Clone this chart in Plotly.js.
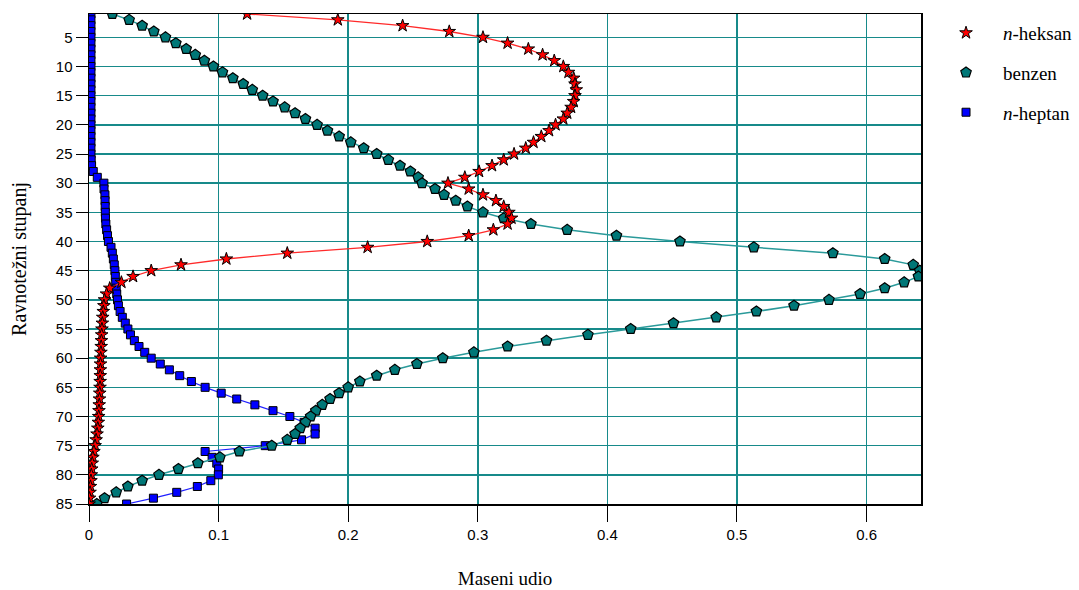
<!DOCTYPE html>
<html>
<head>
<meta charset="utf-8">
<script src="https://cdn.plot.ly/plotly-3.0.1.min.js"></script>
<style>html,body{margin:0;padding:0;background:#fff;}#chart{width:1079px;height:590px;}</style>
</head>
<body>
<div id="chart"></div>
<script>
// Equilibrium stages 1..85
const stages = [];
for (let s = 1; s <= 85; s++) stages.push(s);

// Mass fractions
const heksan = [
  0.122, 0.192, 0.242, 0.278, 0.304, 0.323, 0.339, 0.350, 0.359, 0.366,
  0.370, 0.374, 0.375, 0.376, 0.375, 0.374, 0.372, 0.369, 0.366, 0.360,
  0.355, 0.349, 0.343, 0.337, 0.328, 0.320, 0.311, 0.301, 0.290, 0.277,
  0.293, 0.304, 0.314, 0.320, 0.324, 0.326, 0.323, 0.312, 0.293, 0.261,
  0.215, 0.153, 0.106, 0.071, 0.048, 0.034, 0.025, 0.016, 0.0135, 0.012,
  0.0115, 0.011, 0.0106, 0.0103, 0.0100, 0.0098, 0.0096, 0.0094, 0.0092, 0.0090,
  0.0089, 0.0088, 0.0087, 0.0086, 0.0085, 0.0083, 0.0081, 0.0079, 0.0077, 0.0075,
  0.0072, 0.0068, 0.0062, 0.0055, 0.0047, 0.0038, 0.0030, 0.0025, 0.0021, 0.0018,
  0.0015, 0.0011, 0.0008, 0.0004, 0.0001
];
const benzen = [
  0.018, 0.031, 0.041, 0.050, 0.059, 0.067, 0.075, 0.082, 0.089, 0.096,
  0.103, 0.111, 0.119, 0.126, 0.134, 0.142, 0.151, 0.159, 0.167, 0.176,
  0.184, 0.193, 0.202, 0.212, 0.222, 0.231, 0.240, 0.248, 0.254, 0.257,
  0.267, 0.274, 0.283, 0.292, 0.304, 0.320, 0.341, 0.369, 0.407, 0.456,
  0.513, 0.574, 0.614, 0.636, 0.641, 0.640, 0.629, 0.614, 0.595, 0.571,
  0.544, 0.515, 0.484, 0.451, 0.418, 0.385, 0.353, 0.323, 0.297, 0.273,
  0.253, 0.236, 0.222, 0.209, 0.200, 0.193, 0.186, 0.180, 0.175, 0.171,
  0.167, 0.163, 0.159, 0.153, 0.141, 0.116, 0.101, 0.084, 0.069, 0.054,
  0.041, 0.030, 0.021, 0.012, 0.006
];
const heptan = [
  0.0015, 0.0015, 0.0015, 0.0015, 0.0015, 0.0015, 0.0015, 0.0015, 0.0015, 0.0015,
  0.0015, 0.0015, 0.0015, 0.0015, 0.0015, 0.0015, 0.0015, 0.0015, 0.0015, 0.0015,
  0.0015, 0.0015, 0.0015, 0.0015, 0.0015, 0.0017, 0.0020, 0.0033, 0.0064, 0.0115,
  0.0116, 0.0123, 0.0124, 0.0125, 0.0126, 0.0127, 0.0130, 0.0136, 0.0143, 0.0150,
  0.0170, 0.0180, 0.0188, 0.0195, 0.0200, 0.0203, 0.0206, 0.0210, 0.0214, 0.0220,
  0.0227, 0.0240, 0.0257, 0.0280, 0.0300, 0.0320, 0.0350, 0.0386, 0.0430, 0.0480,
  0.0550, 0.0620, 0.0700, 0.0790, 0.0896, 0.1020, 0.1140, 0.1280, 0.1420, 0.1550,
  0.1660, 0.1745, 0.1745, 0.1640, 0.1360, 0.0896, 0.0950, 0.0986, 0.1000, 0.0998,
  0.0940, 0.0836, 0.0677, 0.0497, 0.0290
];

const yTicks = [5,10,15,20,25,30,35,40,45,50,55,60,65,70,75,80,85];
const xTicks = [0,0.1,0.2,0.3,0.4,0.5,0.6];
const xTickText = ['0','0.1','0.2','0.3','0.4','0.5','0.6'];
const names = ['<i>n</i>-heksan', 'benzen', '<i>n</i>-heptan'];

const mk = {
  heksan: {symbol:'star', size:9.5, color:'#ff0000', line:{color:'#000', width:1}},
  benzen: {symbol:'pentagon', size:11, color:'#007777', line:{color:'#000', width:1.2}},
  heptan: {symbol:'square', size:8, color:'#0000ff', line:{color:'#000', width:1}}
};

const traces = [
  {x: heptan, y: stages, mode:'lines+markers', line:{color:'#2020ff', width:1.2}, marker: mk.heptan, showlegend:false, hoverinfo:'x+y'},
  {x: benzen, y: stages, mode:'lines+markers', line:{color:'#2a9a9a', width:1.5}, marker: mk.benzen, showlegend:false, hoverinfo:'x+y'},
  {x: heksan, y: stages, mode:'lines+markers', line:{color:'#ff2a2a', width:1.3}, marker: mk.heksan, showlegend:false, hoverinfo:'x+y'},
  // legend entries (markers only)
  {x:[null], y:[null], mode:'markers', name:names[0], marker: mk.heksan, legendgroup:'a'},
  {x:[null], y:[null], mode:'markers', name:names[1], marker: mk.benzen, legendgroup:'b'},
  {x:[null], y:[null], mode:'markers', name:names[2], marker: mk.heptan, legendgroup:'c'}
];

const layout = {
  width:1079, height:590,
  margin:{l:89, r:158, t:14, b:86, pad:0},
  paper_bgcolor:'#fff', plot_bgcolor:'#fff',
  font:{family:'"Liberation Serif", "Times New Roman", serif', color:'#000'},
  xaxis:{
    range:[0, 0.642], tickvals:xTicks, ticktext:xTickText,
    showgrid:true, gridcolor:'#178a8a', gridwidth:1.6,
    zeroline:false, showline:true, linecolor:'#000', linewidth:1.5, mirror:true,
    ticks:'outside', ticklen:16, tickcolor:'#000', tickwidth:1,
    tickfont:{family:'"Liberation Sans Narrow", "Liberation Sans", Arial, sans-serif', size:15, color:'#000'},
    title:{text:'Maseni udio', font:{family:'"Liberation Serif", serif', size:19, color:'#000'}, standoff:30},
    automargin:false, fixedrange:true
  },
  yaxis:{
    range:[85, 1], tickvals:yTicks,
    showgrid:true, gridcolor:'#178a8a', gridwidth:1.6,
    zeroline:false, showline:true, linecolor:'#000', linewidth:1.5, mirror:true,
    ticks:'outside', ticklen:12, tickcolor:'#000', tickwidth:1,
    tickfont:{family:'"Liberation Sans Narrow", "Liberation Sans", Arial, sans-serif', size:15, color:'#000'},
    title:{text:'Ravnotežni stupanj', font:{family:'"Liberation Serif", serif', size:20, color:'#000'}, standoff:24},
    automargin:false, fixedrange:true
  },
  legend:{
    xref:'container', yref:'container',
    x:0.861, xanchor:'left', y:0.9763, yanchor:'top',
    font:{family:'"Liberation Serif", serif', size:19, color:'#000'},
    bgcolor:'rgba(0,0,0,0)', borderwidth:0,
    itemwidth:64, tracegroupgap:12, itemsizing:'trace'
  },
  showlegend:true
};

Plotly.newPlot('chart', traces, layout, {displayModeBar:false, staticPlot:true});
</script>
</body>
</html>
